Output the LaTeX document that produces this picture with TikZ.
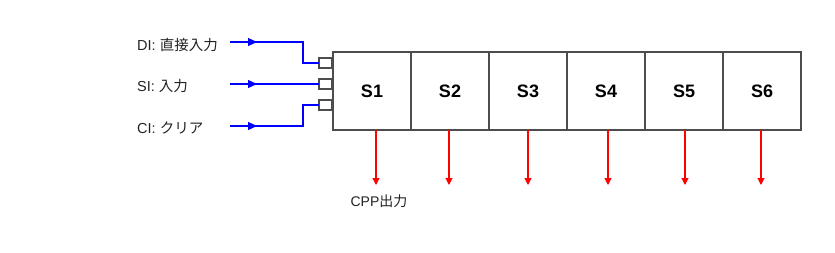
\documentclass[tikz,border=0pt]{standalone}
\usepackage{fontspec}
\setmainfont{Liberation Sans}
\newfontfamily\jp{Noto Sans CJK JP}
\usetikzlibrary{arrows.meta,decorations.markings}
\definecolor{boxline}{HTML}{4D4D4D}
\definecolor{txt}{HTML}{222222}
\tikzset{
  lbl/.style={anchor=west,inner sep=0pt,text=txt,font=\fontsize{14.5}{16}\selectfont},
  cell/.style={draw=boxline,line width=1.2pt,fill=white,minimum width=78pt,minimum height=78pt,inner sep=0pt,outer sep=0pt,anchor=north west,font=\bfseries\fontsize{18}{20}\selectfont},
  port/.style={draw=boxline,line width=1.1pt,fill=white,minimum width=13pt,minimum height=10pt,inner sep=0pt,outer sep=0pt},
  inwire/.style={draw=blue,line width=1.3pt,postaction={decorate},
    decoration={markings,mark=at position 27pt with {\arrow{Triangle[length=9pt,width=8pt]}}}},
  outwire/.style={draw=red,line width=1.1pt,-{Triangle[length=7pt,width=7pt]}},
}
\begin{document}
\begin{tikzpicture}[x=1pt,y=-1pt]
\useasboundingbox (0,0) rectangle (835,252);
% labels
\node[lbl] (dil) at (137,45) {DI: {\jp 直接入力}};
\node[lbl] (sil) at (137,86) {SI: {\jp 入力}};
\node[lbl] (cil) at (137,128) {CI: {\jp クリア}};
\coordinate (dis) at (230,42);
\coordinate (sis) at (230,84);
\coordinate (cis) at (230,126);
% ports
\node[port] (p1) at (325.5,63) {};
\node[port] (p2) at (325.5,84) {};
\node[port] (p3) at (325.5,105) {};
% cells
\node[cell] (s1) at (333,52) {S1};
\node[cell] (s2) at (s1.north east) {S2};
\node[cell] (s3) at (s2.north east) {S3};
\node[cell] (s4) at (s3.north east) {S4};
\node[cell] (s5) at (s4.north east) {S5};
\node[cell] (s6) at (s5.north east) {S6};
% input wires
\draw[inwire] (dis) -- ++(73,0) |- (p1.west);
\draw[inwire] (sis) -- (p2.west);
\draw[inwire] (cis) -- ++(73,0) |- (p3.west);
% outputs
\coordinate (o1) at (376,185);
\coordinate (o2) at (449,185);
\coordinate (o3) at (528,185);
\coordinate (o4) at (608,185);
\coordinate (o5) at (685,185);
\coordinate (o6) at (761,185);
\draw[outwire] (s1.south -| o1) -- (o1);
\draw[outwire] (s2.south -| o2) -- (o2);
\draw[outwire] (s3.south -| o3) -- (o3);
\draw[outwire] (s4.south -| o4) -- (o4);
\draw[outwire] (s5.south -| o5) -- (o5);
\draw[outwire] (s6.south -| o6) -- (o6);
\node[inner sep=0pt,text=txt,font=\fontsize{14}{16}\selectfont] (cpp) at (379,201) {CPP{\jp 出力}};
\end{tikzpicture}
\end{document}
